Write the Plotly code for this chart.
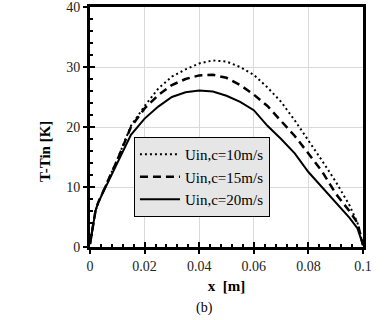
import plotly.graph_objects as go

# axial position [m]
x = [0, 0.001, 0.002, 0.003, 0.006, 0.01, 0.015, 0.02, 0.025, 0.03, 0.035, 0.04, 0.045,
     0.05, 0.055, 0.06, 0.065, 0.07, 0.075, 0.08, 0.085, 0.09, 0.095, 0.098, 0.1]

# T - Tin [K] for each inlet velocity
dt_10 = [0.5, 3.5, 6.0, 7.4, 10.4, 14.6, 20.2, 23.5, 26.4, 28.4, 29.6, 30.6, 31.1,
         30.9, 30.0, 28.7, 26.6, 24.2, 21.1, 17.8, 14.4, 10.9, 7.0, 4.0, 0.3]
dt_15 = [0.5, 3.5, 6.0, 7.4, 10.4, 14.5, 20.0, 23.1, 25.3, 27.0, 28.0, 28.6, 28.7,
         28.2, 27.0, 25.4, 23.5, 21.0, 18.5, 15.6, 12.6, 8.9, 6.0, 4.0, 0.3]
dt_20 = [0.5, 3.5, 6.0, 7.4, 10.2, 14.0, 18.7, 21.4, 23.4, 25.0, 25.8, 26.1, 25.9,
         25.2, 24.2, 22.8, 20.2, 18.0, 15.6, 12.5, 10.0, 7.5, 4.9, 3.1, 0.3]

labels = ["Uin,c=10m/s", "Uin,c=15m/s", "Uin,c=20m/s"]

FONT = "Liberation Serif"

fig = go.Figure()
fig.add_trace(go.Scatter(x=x, y=dt_10, mode="lines", name=labels[0],
                         line=dict(color="black", width=2, dash="2px,3px")))
fig.add_trace(go.Scatter(x=x, y=dt_15, mode="lines", name=labels[1],
                         line=dict(color="black", width=2.5, dash="8px,5px")))
fig.add_trace(go.Scatter(x=x, y=dt_20, mode="lines", name=labels[2],
                         line=dict(color="black", width=2)))
# empty trace so the overlay axes (inner tick marks) get drawn
fig.add_trace(go.Scatter(x=[], y=[], xaxis="x2", yaxis="y2", showlegend=False,
                         hoverinfo="skip"))

axis_common = dict(
    showline=True, linecolor="black", linewidth=3, mirror=True,
    showgrid=True, gridcolor="#d9d9d9", gridwidth=1, zeroline=False,
    ticks="outside", ticklen=4, tickwidth=2, tickcolor="black",
    tickfont=dict(family=FONT, size=14, color="#222"),
    automargin=False, ticklabeloverflow="allow",
)
inner_ticks = dict(
    showticklabels=False, showgrid=False, showline=False, zeroline=False,
    ticks="inside", ticklen=5, tickwidth=2, tickcolor="black", automargin=False,
)

fig.update_layout(
    width=390, height=320,
    margin=dict(l=90, r=27, t=7, b=73),
    plot_bgcolor="white", paper_bgcolor="white",
    font=dict(family=FONT, color="black"),
    xaxis=dict(range=[0, 0.1], dtick=0.02, tick0=0,
               title=dict(text="<b>x  [m]</b>", font=dict(family=FONT, size=15), standoff=8),
               **axis_common),
    yaxis=dict(range=[0, 40], dtick=10, tick0=0, **axis_common),
    xaxis2=dict(overlaying="x", anchor="y", range=[0, 0.1], dtick=0.02, tick0=0,
                minor=dict(ticks="inside", ticklen=3, tickwidth=2, tickcolor="black",
                           dtick=0.004, showgrid=False),
                **inner_ticks),
    yaxis2=dict(overlaying="y", anchor="x", range=[0, 40], dtick=10, tick0=0,
                minor=dict(ticks="inside", ticklen=3, tickwidth=2, tickcolor="black",
                           dtick=2, showgrid=False),
                **inner_ticks),
    legend=dict(x=0.161, y=0.292, xanchor="left", yanchor="middle",
                bgcolor="#e6e6e6", bordercolor="black", borderwidth=1,
                font=dict(family=FONT, size=15, color="black"),
                tracegroupgap=0, itemwidth=40),
    showlegend=True,
)

fig.add_annotation(text="<b>T-Tin [K]</b>", xref="paper", yref="paper",
                   x=-0.165, y=0.4, xanchor="center", yanchor="middle",
                   textangle=-90, showarrow=False,
                   font=dict(family=FONT, size=15, color="black"))
fig.add_annotation(text="(b)", xref="paper", yref="paper",
                   x=0.42, y=-0.255, yanchor="middle", showarrow=False,
                   font=dict(family=FONT, size=14, color="black"))

# the page has a default 8px body margin; drop it so the figure sits at the corner
fig.write_html("out.html", config={"displayModeBar": False},
               post_script="document.body.style.margin = '0px';")
